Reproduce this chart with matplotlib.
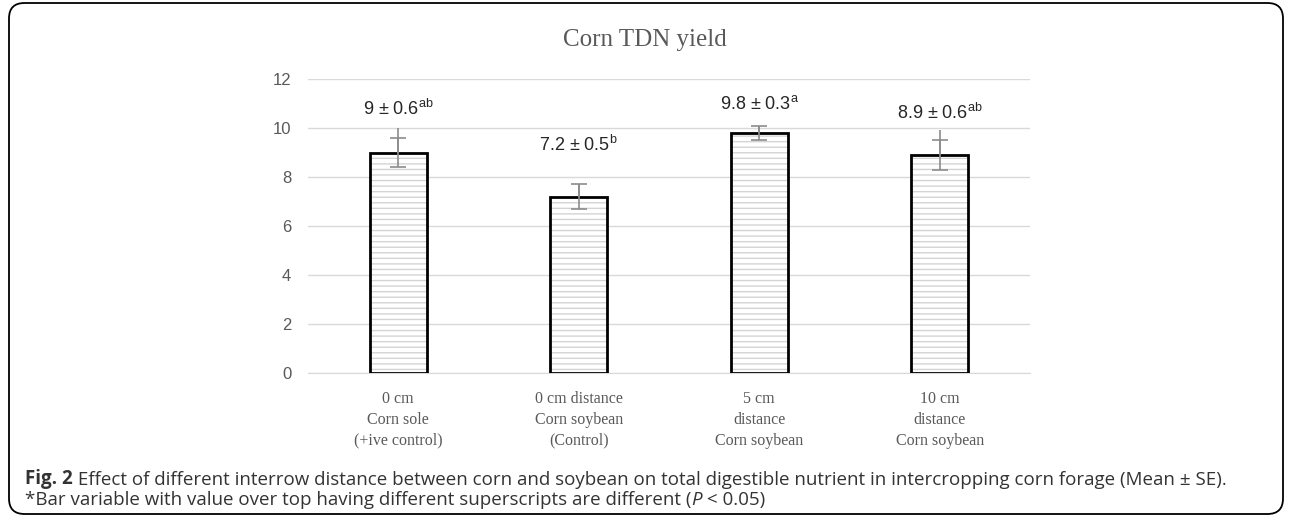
import matplotlib
matplotlib.use("Agg")
import matplotlib.pyplot as plt
import numpy as np
from matplotlib.patches import FancyBboxPatch

# ── Dati ──────────────────────────────────────────────────────────
categories = ["0 cm\nCorn sole\n(+ive control)",
              "0 cm distance\nCorn soybean\n(Control)",
              "5 cm\ndistance\nCorn soybean",
              "10 cm\ndistance\nCorn soybean"]
means = [9.0, 7.2, 9.8, 8.9]
se = [0.6, 0.5, 0.3, 0.6]
letters = ["ab", "b", "a", "ab"]
# estremo superiore della linea verticale (più lungo del cappuccio in due barre)
line_top = [10.0, 7.7, 10.1, 9.9]
yticks = [0, 2, 4, 6, 8, 10, 12]

GRAY = "#595959"
GRID = "#d9d9d9"
CAP = "#333333"

plt.rcParams['mathtext.fontset'] = 'custom'
plt.rcParams['mathtext.rm'] = 'Liberation Sans'

fig = plt.figure(figsize=(12.9, 5.17), dpi=100)
ax = fig.add_axes([308 / 1290, 1 - 373 / 517, 722 / 1290, 294 / 517])

x = np.arange(len(means))
w = 0.316

# riempimento tratteggiato + bordo nero
ax.bar(x, means, w, color='white', edgecolor='#d4d4d4', hatch='---', linewidth=0, zorder=2)
ax.bar(x, means, w, fill=False, edgecolor='black', linewidth=2, zorder=3)

# barre d'errore
ax.errorbar(x, means, yerr=se, fmt='none', ecolor='#8c8c8c', elinewidth=1.2,
            capsize=6, capthick=1.2, zorder=4)
ax.vlines(x, means, line_top, color='#8c8c8c', linewidth=1.2, zorder=4)

# etichette sopra le barre
label_off = [20, 26, 10, 19]
for xi, m, s, l, off in zip(x, means, se, letters, label_off):
    ax.annotate(f"{m:g} ± {s:g}" + r"$^{\mathrm{" + l + "}}$",
                xy=(xi, m), xytext=(0, off + 11), textcoords='offset points',
                ha='center', va='center', fontsize=13, color='#262626',
                family='Liberation Sans')

ax.set_ylim(0, 12)
ax.set_xlim(-0.5, 3.5)
ax.set_yticks(yticks)
ax.set_xticks(x)
ax.set_xticklabels(categories, family='Liberation Serif', fontsize=11.5,
                   color=GRAY, linespacing=1.4)
for t in ax.get_yticklabels():
    t.set_family('Liberation Sans')
    t.set_fontsize(12)
    t.set_color(GRAY)
ax.tick_params(axis='both', length=0, pad=12)
ax.tick_params(axis='x', pad=13)
ax.grid(axis='y', color=GRID, linewidth=1, zorder=0)
ax.set_axisbelow(True)
for sp in ['top', 'right', 'left']:
    ax.spines[sp].set_visible(False)
ax.spines['bottom'].set_color(GRID)

fig.text(0.5, 1 - 40 / 517, "Corn TDN yield", ha='center', va='center',
         family='Liberation Serif', fontsize=18, color=GRAY)

# didascalia (pezzi concatenati)
CAP_FS = 13.5
t1 = fig.text(25 / 1290, 1 - 484 / 517, "Fig. 2", ha='left', va='baseline',
              family='Open Sans', weight='bold', fontsize=CAP_FS, color=CAP)
plt.annotate(" Effect of different interrow distance between corn and soybean on total "
             "digestible nutrient in intercropping corn forage (Mean ± SE).",
             xy=(1, 0), xycoords=t1, va='bottom', ha='left',
             family='Open Sans', fontsize=CAP_FS, color=CAP, annotation_clip=False)
t3 = fig.text(25 / 1290, 1 - 505 / 517,
              "*Bar variable with value over top having different superscripts are different (",
              ha='left', va='baseline', family='Open Sans', fontsize=CAP_FS, color=CAP)
t4 = plt.annotate("P", xy=(1, 0), xycoords=t3, va='bottom', ha='left',
                  family='Open Sans', style='italic', fontsize=CAP_FS, color=CAP,
                  annotation_clip=False)
plt.annotate(" < 0.05)", xy=(1, 0), xycoords=t4, va='bottom', ha='left',
             family='Open Sans', fontsize=CAP_FS, color=CAP, annotation_clip=False)

# cornice arrotondata
box = FancyBboxPatch((9 / 1290, 3 / 517), 1274 / 1290, 511 / 517,
                     boxstyle="round,pad=0,rounding_size=0.012",
                     transform=fig.transFigure, fill=False,
                     edgecolor='black', linewidth=1.3, mutation_aspect=1290 / 517)
fig.patches.append(box)

fig.savefig("out.png", dpi=100)
